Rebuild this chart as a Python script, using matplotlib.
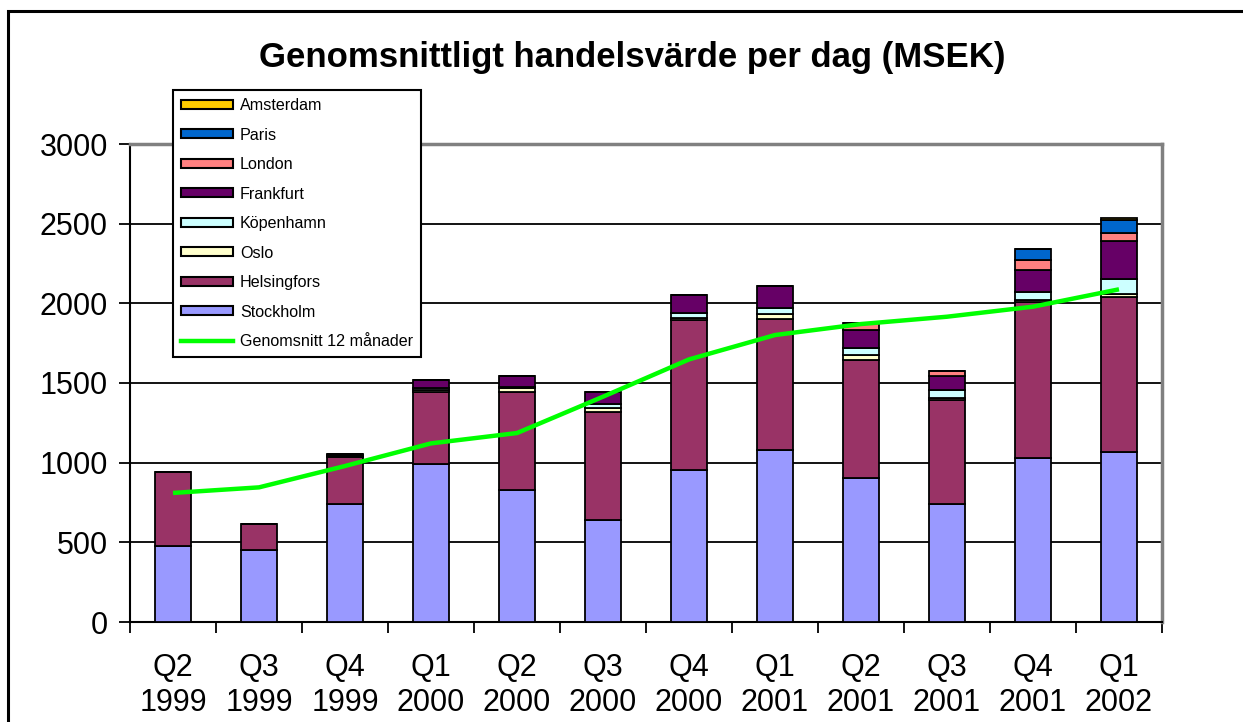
import matplotlib
matplotlib.use("Agg")
import matplotlib.pyplot as plt
import numpy as np
from matplotlib.patches import Patch, Rectangle
from matplotlib.lines import Line2D

plt.rcParams['font.family'] = ['Liberation Sans', 'DejaVu Sans']

categories = ["Q2\n1999", "Q3\n1999", "Q4\n1999", "Q1\n2000", "Q2\n2000", "Q3\n2000",
              "Q4\n2000", "Q1\n2001", "Q2\n2001", "Q3\n2001", "Q4\n2001", "Q1\n2002"]

stockholm   = [477, 452, 740, 991, 828, 640, 954, 1079, 906, 740, 1031, 1069]
helsingfors = [464, 165, 297, 450, 613, 676, 941, 825, 738, 653, 979, 972]
oslo        = [0, 0, 6, 18, 25, 29, 12, 29, 29, 14, 10, 18]
kopenhamn   = [0, 0, 3, 8, 12, 23, 35, 37, 48, 46, 53, 95]
frankfurt   = [0, 0, 9, 53, 68, 75, 113, 141, 111, 88, 136, 240]
london      = [0, 0, 0, 0, 0, 0, 0, 0, 46, 37, 63, 48]
paris       = [0, 0, 0, 0, 0, 0, 0, 0, 0, 0, 67, 78]
amsterdam   = [0, 0, 0, 0, 0, 0, 0, 0, 0, 0, 0, 14]
avg12       = [810, 845, 979, 1121, 1186, 1414, 1648, 1801, 1870, 1916, 1979, 2088]

series = [
    ("Stockholm", stockholm, "#9999FF"),
    ("Helsingfors", helsingfors, "#993366"),
    ("Oslo", oslo, "#FFFFCC"),
    ("Köpenhamn", kopenhamn, "#CCFFFF"),
    ("Frankfurt", frankfurt, "#660066"),
    ("London", london, "#FF8080"),
    ("Paris", paris, "#0066CC"),
    ("Amsterdam", amsterdam, "#FFCC00"),
]

W, H = 1243, 722
fig = plt.figure(figsize=(W / 100, H / 100), dpi=100)
ax = fig.add_axes([130 / W, 1 - 622 / H, 1032 / W, 478 / H])

# outer chart frame
fig.patches.append(Rectangle((8 / W, -0.1), 1.2, 1 - 11 / H + 0.1, transform=fig.transFigure,
                             fill=False, edgecolor="black", linewidth=2.2, zorder=0))

x = np.arange(len(categories))
bottom = np.zeros(len(categories))
for name, vals, col in series:
    v = np.array(vals, dtype=float)
    ax.bar(x, v, width=0.42, bottom=bottom, color=col, edgecolor="black",
           linewidth=1.3, zorder=3)
    bottom += v

ax.plot(x, avg12, color="#00FF00", linewidth=3.2, zorder=5, solid_capstyle="butt")

ax.set_xlim(-0.5, len(categories) - 0.5)
ax.set_ylim(0, 3000)
ax.set_yticks(np.arange(0, 3001, 500))
ax.tick_params(axis="y", labelsize=22, length=8, width=1.3, direction="out", pad=8)
ax.yaxis.grid(True, color="black", linewidth=1.3, zorder=0)
ax.set_axisbelow(True)

ax.set_xticks(x)
ax.set_xticklabels(categories, fontsize=22, linespacing=1.25)
ax.tick_params(axis="x", length=0, pad=22)
ax.set_xticks(np.arange(-0.5, len(categories)), minor=True)
ax.tick_params(axis="x", which="minor", length=8, width=1.3, direction="out")

for s in ("left", "bottom"):
    ax.spines[s].set_color("black")
    ax.spines[s].set_linewidth(1.5)
for s in ("top", "right"):
    ax.spines[s].set_color("#808080")
    ax.spines[s].set_linewidth(2.5)

fig.text(632 / W, 1 - 58 / H, "Genomsnittligt handelsvärde per dag (MSEK)",
         ha="center", va="center", fontsize=25, fontweight="bold")

handles = [Patch(facecolor=col, edgecolor="black", linewidth=1.5, label=name)
           for name, vals, col in reversed(series)]
handles.append(Line2D([0], [0], color="#00FF00", linewidth=3.2, label="Genomsnitt 12 månader"))
leg = ax.legend(handles=handles, loc="upper left", bbox_to_anchor=(173 / W, 1 - 90 / H),
                bbox_transform=fig.transFigure, borderaxespad=0, fontsize=11.6,
                handlelength=3.2, handleheight=0.5, labelspacing=0.9, handletextpad=0.45,
                borderpad=0.5, fancybox=False, framealpha=1, edgecolor="black")
leg.get_frame().set_linewidth(1.5)
leg.set_zorder(10)

fig.savefig("out.png", dpi=100)
